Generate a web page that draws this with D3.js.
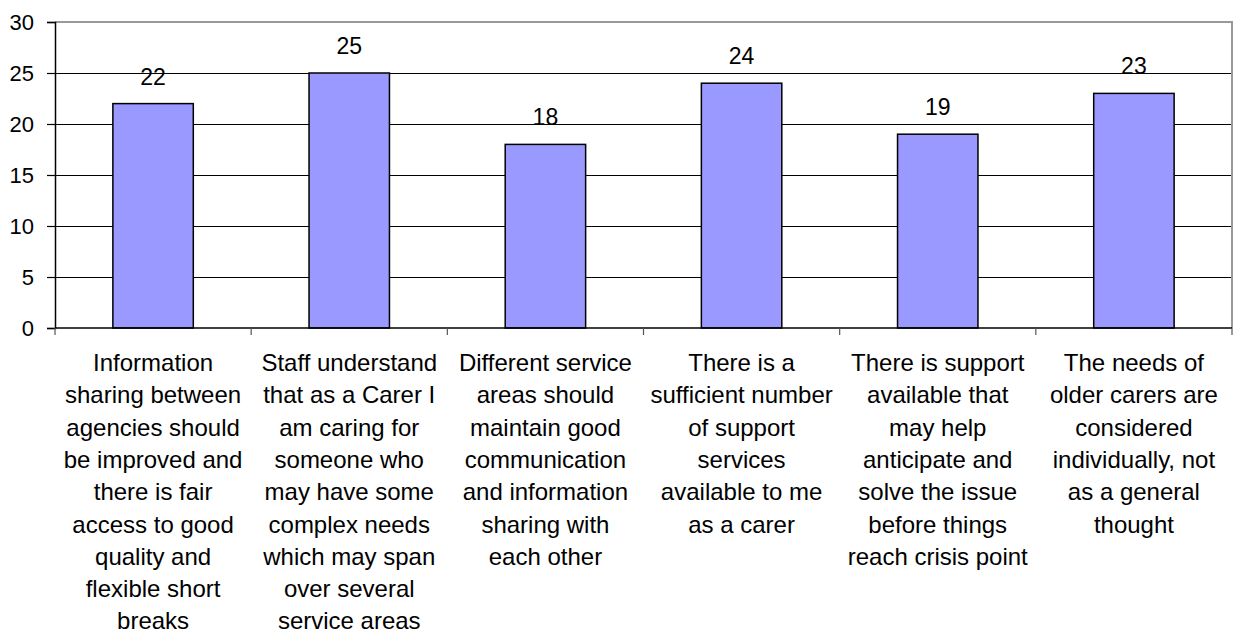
<!DOCTYPE html>
<html>
<head>
<meta charset="utf-8">
<script src="https://cdn.jsdelivr.net/npm/d3@7"></script>
<style>
  body { margin: 0; background: #fff; }
  svg { display: block; font-family: "Liberation Sans", Arial, sans-serif; }
</style>
</head>
<body>
<div id="chart"></div>
<script>
// Category labels, already broken into lines as in the original
const categories = [
    ["Information", "sharing between", "agencies should", "be improved and", "there is fair", "access to good", "quality and", "flexible short", "breaks"],
    ["Staff understand", "that as a Carer I", "am caring for", "someone who", "may have some", "complex needs", "which may span", "over several", "service areas"],
    ["Different service", "areas should", "maintain good", "communication", "and information", "sharing with", "each other"],
    ["There is a", "sufficient number", "of support", "services", "available to me", "as a carer"],
    ["There is support", "available that", "may help", "anticipate and", "solve the issue", "before things", "reach crisis point"],
    ["The needs of", "older carers are", "considered", "individually, not", "as a general", "thought"]
];
const values = [22, 25, 18, 24, 19, 23];
const yTicks = [0, 5, 10, 15, 20, 25, 30];

const width = 1237, height = 635;
const margin = { top: 22, right: 5, bottom: 307, left: 55 };

const svg = d3.select("#chart")
    .append("svg")
    .attr("width", width)
    .attr("height", height);

const keys = d3.range(categories.length);

const xScale = d3.scaleBand()
    .domain(keys)
    .range([margin.left, width - margin.right])
    .paddingInner(0.59)
    .paddingOuter(0.295);

// band without padding, for tick marks at category boundaries
const xOuter = d3.scaleBand()
    .domain(keys)
    .range([margin.left, width - margin.right]);

const yScale = d3.scaleLinear()
    .domain([0, 30])
    .range([height - margin.bottom, margin.top]);

// Gridlines
svg.append("g")
    .selectAll("line")
    .data(yTicks.filter(t => t > 0 && t < 30))
    .enter().append("line")
    .attr("x1", margin.left)
    .attr("x2", width - margin.right)
    .attr("y1", d => yScale(d))
    .attr("y2", d => yScale(d))
    .attr("stroke", "#000")
    .attr("stroke-width", 1)
    .attr("shape-rendering", "crispEdges");

// Plot area border (top and right in gray)
svg.append("path")
    .attr("d", `M${margin.left},${yScale(30)}H${width - margin.right}V${yScale(0)}`)
    .attr("fill", "none")
    .attr("stroke", "#999")
    .attr("stroke-width", 1.5)
    .attr("shape-rendering", "crispEdges");

// Bars
svg.append("g")
    .selectAll("rect")
    .data(values)
    .enter().append("rect")
    .attr("x", (d, i) => xScale(i))
    .attr("y", d => yScale(d))
    .attr("width", xScale.bandwidth())
    .attr("height", d => yScale(0) - yScale(d))
    .attr("fill", "#9999ff")
    .attr("stroke", "#000")
    .attr("stroke-width", 1.5);

// Value labels
svg.append("g")
    .selectAll("text")
    .data(values)
    .enter().append("text")
    .attr("x", (d, i) => xScale(i) + xScale.bandwidth() / 2)
    .attr("y", d => yScale(d) - 19)
    .attr("text-anchor", "middle")
    .style("font-size", "23px")
    .style("fill", "#000")
    .text(d => d);

// Y axis
const yAxis = svg.append("g")
    .attr("transform", `translate(${margin.left},0)`)
    .call(d3.axisLeft(yScale).tickValues(yTicks).tickSize(8).tickPadding(13));
yAxis.select(".domain").attr("stroke", "#000").attr("stroke-width", 1.5);
yAxis.selectAll(".tick line").attr("stroke", "#000").attr("stroke-width", 1.2);
yAxis.selectAll("text")
    .style("font-size", "22px")
    .style("font-family", "\"Liberation Sans\", Arial, sans-serif")
    .attr("fill", "#000");

// X axis baseline and boundary ticks
const xAxis = svg.append("g");
xAxis.append("line")
    .attr("x1", margin.left)
    .attr("x2", width - margin.right)
    .attr("y1", yScale(0))
    .attr("y2", yScale(0))
    .attr("stroke", "#000")
    .attr("stroke-width", 1.5);
xAxis.selectAll(".xtick")
    .data(d3.range(categories.length + 1))
    .enter().append("line")
    .attr("class", "xtick")
    .attr("x1", i => i < categories.length ? xOuter(i) : xOuter(i - 1) + xOuter.bandwidth())
    .attr("x2", i => i < categories.length ? xOuter(i) : xOuter(i - 1) + xOuter.bandwidth())
    .attr("y1", yScale(0))
    .attr("y2", yScale(0) + 7)
    .attr("stroke", "#555")
    .attr("stroke-width", 1.2);

// Category labels
const labels = svg.append("g")
    .selectAll("text")
    .data(categories)
    .enter().append("text")
    .attr("text-anchor", "middle")
    .style("font-size", "24px")
    .style("fill", "#000");

labels.selectAll("tspan")
    .data((d, i) => d.map(line => ({ line, i })))
    .enter().append("tspan")
    .attr("x", d => xOuter(d.i) + xOuter.bandwidth() / 2)
    .attr("y", (d, j) => yScale(0) + 43 + j * 32.3)
    .text(d => d.line);
</script>
</body>
</html>
